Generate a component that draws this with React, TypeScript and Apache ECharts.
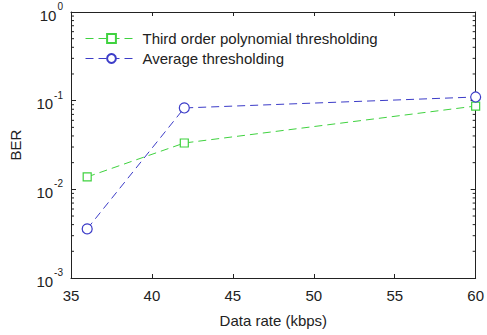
import React, { useEffect, useRef } from "react";
import * as echarts from "echarts";

const dataRates = [36, 42, 60];
const polyBER = [0.0138, 0.0333, 0.087];
const avgBER = [0.00358, 0.0828, 0.11];
const seriesNames = ["Third order polynomial thresholding", "Average thresholding"];
const yDecades = [-3, -2, -1, 0];
const minorMultipliers = [2, 3, 4, 5, 6, 7, 8, 9];

const FONT = "Liberation Sans, Arial, sans-serif";
const GREEN = "#3fd23f";
const BLUE = "#3c3cc8";

export default function App() {
  const ref = useRef<HTMLDivElement>(null);
  useEffect(() => {
    if (!ref.current) return;
    const chart = echarts.init(ref.current, null, { renderer: "svg" });

    const minorData: number[][] = [];
    yDecades.slice(0, -1).forEach((d) => {
      minorMultipliers.forEach((m) => minorData.push([35, m * Math.pow(10, d)]));
    });

    const supLabel = (v: number) => {
      const e = Math.round(Math.log10(v));
      return `{b|10}{s|${e}}`;
    };
    const rich = {
      b: { fontFamily: FONT, fontSize: 15, color: "#222", padding: [6, 0, 0, 0] },
      s: { fontFamily: FONT, fontSize: 10, color: "#222", verticalAlign: "top", padding: [0, 0, 6, 1] },
    };

    chart.setOption({
      animation: false,
      backgroundColor: "#fff",
      grid: { left: 70, right: 7, top: 12, bottom: 57 },
      legend: {
        left: 80,
        top: 26,
        orient: "vertical",
        itemGap: 5,
        itemWidth: 52,
        itemHeight: 11,
        data: seriesNames,
        lineStyle: { width: 1 },
        textStyle: { fontFamily: FONT, fontSize: 15, color: "#222" },
      },
      xAxis: [
        {
          type: "value",
          min: 35,
          max: 60,
          interval: 5,
          name: "Data rate (kbps)",
          nameLocation: "middle",
          nameGap: 35,
          nameTextStyle: { fontFamily: FONT, fontSize: 15, color: "#222" },
          axisLine: { lineStyle: { color: "#222", width: 1 } },
          axisTick: { inside: true, length: 4, lineStyle: { color: "#222" } },
          axisLabel: { fontFamily: FONT, fontSize: 15, color: "#222", margin: 10 },
          splitLine: { show: false },
        },
        {
          type: "value",
          position: "top",
          min: 35,
          max: 60,
          interval: 5,
          axisLine: { show: true, lineStyle: { color: "#222", width: 1 } },
          axisTick: { inside: true, length: 4, lineStyle: { color: "#222" } },
          axisLabel: { show: false },
          splitLine: { show: false },
        },
      ],
      yAxis: [
        {
          type: "log",
          logBase: 10,
          min: 0.001,
          max: 1,
          name: "BER",
          nameLocation: "middle",
          nameGap: 48,
          nameTextStyle: { fontFamily: FONT, fontSize: 15, color: "#222" },
          axisLine: { show: true, lineStyle: { color: "#222", width: 1 } },
          axisTick: { inside: true, length: 5, lineStyle: { color: "#222" } },
          axisLabel: { formatter: supLabel, rich, margin: 8 },
          splitLine: { show: false },
        },
        {
          type: "log",
          logBase: 10,
          min: 0.001,
          max: 1,
          position: "right",
          axisLine: { show: true, lineStyle: { color: "#222", width: 1 } },
          axisTick: { inside: true, length: 5, lineStyle: { color: "#222" } },
          axisLabel: { show: false },
          splitLine: { show: false },
        },
      ],
      series: [
        {
          name: seriesNames[0],
          type: "line",
          data: dataRates.map((x, i) => [x, polyBER[i]]),
          symbol: "rect",
          symbolSize: 8,
          lineStyle: { color: GREEN, type: [8, 5], width: 1 },
          itemStyle: { color: "#fff", borderColor: GREEN, borderWidth: 1.2 },
          color: GREEN,
        },
        {
          name: seriesNames[1],
          type: "line",
          data: dataRates.map((x, i) => [x, avgBER[i]]),
          symbol: "circle",
          symbolSize: 10,
          lineStyle: { color: BLUE, type: [8, 5], width: 1 },
          itemStyle: { color: "#fff", borderColor: BLUE, borderWidth: 1.2 },
          color: BLUE,
        },
        {
          type: "custom",
          silent: true,
          data: minorData,
          renderItem: (params: any, api: any) => {
            const y = api.value(1);
            const pl = api.coord([35, y]);
            const pr = api.coord([60, y]);
            return {
              type: "group",
              children: [
                { type: "line", shape: { x1: pl[0], y1: pl[1], x2: pl[0] + 3, y2: pl[1] }, style: { stroke: "#222", lineWidth: 1 } },
                { type: "line", shape: { x1: pr[0], y1: pr[1], x2: pr[0] - 3, y2: pr[1] }, style: { stroke: "#222", lineWidth: 1 } },
              ],
            };
          },
        },
      ],
    });
    return () => chart.dispose();
  }, []);
  return <div ref={ref} style={{ width: 487, height: 335, position: "absolute", left: 0, top: 0 }} />;
}
